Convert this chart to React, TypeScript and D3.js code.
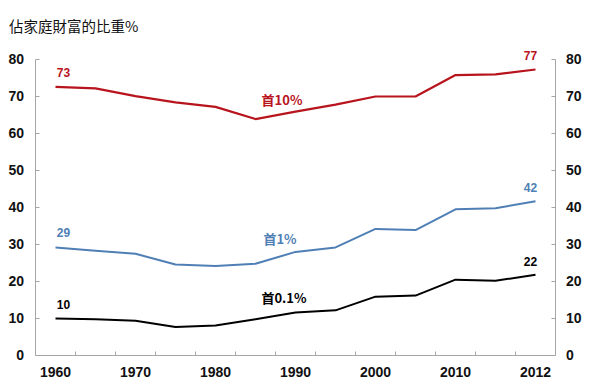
import React from 'react';
import * as d3 from 'd3';

// categories along the x axis
const years = ['1960', '1965', '1970', '1975', '1980', '1985', '1990', '1995', '2000', '2005', '2010', '2011', '2012'];

// share of household wealth, in %
const top10 = [72.6, 72.2, 70.1, 68.4, 67.2, 63.9, 65.9, 67.8, 70.0, 70.0, 75.8, 76.0, 77.3];
const top1 = [29.2, 28.3, 27.5, 24.6, 24.2, 24.8, 28.0, 29.2, 34.2, 33.9, 39.5, 39.8, 41.7];
const top01 = [10.0, 9.8, 9.4, 7.7, 8.1, 9.8, 11.6, 12.2, 15.9, 16.2, 20.5, 20.2, 21.8];

const yTicks = [0, 10, 20, 30, 40, 50, 60, 70, 80];
const seriesNames = ['首10%', '首1%', '首0.1%'];
const title = '佔家庭財富的比重%';

const width = 592;
const height = 384;
const left = 35.5;
const right = 555.5;
const top = 59.5;
const bottom = 355.5;

const App = () => {
    // band scale for categories, so ticks sit between them like Excel does
    const xScale = d3.scaleBand<string>().domain(years).range([left, right]).padding(0);
    const cx = (y: string) => (xScale(y) as number) + xScale.bandwidth() / 2;
    const yScale = d3.scaleLinear().domain([0, 80]).range([bottom, top]);

    const line = d3.line<number>().x((d, i) => cx(years[i])).y((d) => yScale(d));

    const series = [
        { name: seriesNames[0], values: top10, color: '#b8141d', width: 2.2, label: [282, 100] },
        { name: seriesNames[1], values: top1, color: '#4f7fb5', width: 2, label: [280, 239] },
        { name: seriesNames[2], values: top01, color: '#000000', width: 2, label: [284, 298] },
    ];

    const axisColor = '#a6a6a6';
    const last = years.length - 1;

    return (
        <svg width={width} height={height} style={{ position: 'absolute', left: 0, top: 0, background: '#fff' }}
            fontFamily="'Liberation Sans', Arial, sans-serif">
            <text x={9} y={32} fontSize={14.5} fontFamily="'Noto Sans CJK TC', sans-serif" fill="#111">{title}</text>

            {/* axes lines */}
            <line x1={left} x2={left} y1={top} y2={bottom} stroke={axisColor} />
            <line x1={right} x2={right} y1={top} y2={bottom} stroke={axisColor} />
            <line x1={left} x2={right} y1={bottom} y2={bottom} stroke={axisColor} />

            {/* y ticks, both sides */}
            {yTicks.map((t) => (
                <g key={`yt-${t}`}>
                    <line x1={left} x2={left + 4} y1={yScale(t)} y2={yScale(t)} stroke={axisColor} />
                    <line x1={right - 4} x2={right} y1={yScale(t)} y2={yScale(t)} stroke={axisColor} />
                    <text x={24} y={yScale(t)} dy="0.35em" textAnchor="end" fontSize={14} fontWeight="bold" fill="#111">{t}</text>
                    <text x={566} y={yScale(t)} dy="0.35em" textAnchor="start" fontSize={14} fontWeight="bold" fill="#111">{t}</text>
                </g>
            ))}

            {/* x ticks between categories */}
            {years.slice(1).map((y) => (
                <line key={`xt-${y}`} x1={xScale(y) as number} x2={xScale(y) as number} y1={bottom} y2={bottom - 4} stroke={axisColor} />
            ))}
            {years.map((y, i) => i % 2 === 0 && (
                <text key={`xl-${y}`} x={cx(y)} y={377} textAnchor="middle" fontSize={14} fontWeight="bold" fill="#111">{y}</text>
            ))}

            {/* lines */}
            {series.map((s) => (
                <g key={s.name}>
                    <path d={line(s.values) as string} fill="none" stroke={s.color} strokeWidth={s.width} strokeLinejoin="round" />
                    <text x={cx(years[0]) + 8} y={yScale(s.values[0]) - 10} textAnchor="middle" fontSize={12} fontWeight="bold" fill={s.color}>
                        {Math.round(s.values[0])}
                    </text>
                    <text x={cx(years[last]) - 5} y={yScale(s.values[last]) - 9} textAnchor="middle" fontSize={12} fontWeight="bold" fill={s.color}>
                        {Math.round(s.values[last])}
                    </text>
                    <text x={s.label[0]} y={s.label[1]} dy="0.35em" textAnchor="middle" fontSize={13} fontWeight="bold" fill={s.color}
                        fontFamily="'Noto Sans CJK TC', 'Liberation Sans', sans-serif">{s.name}</text>
                </g>
            ))}
        </svg>
    );
};

export default App;
